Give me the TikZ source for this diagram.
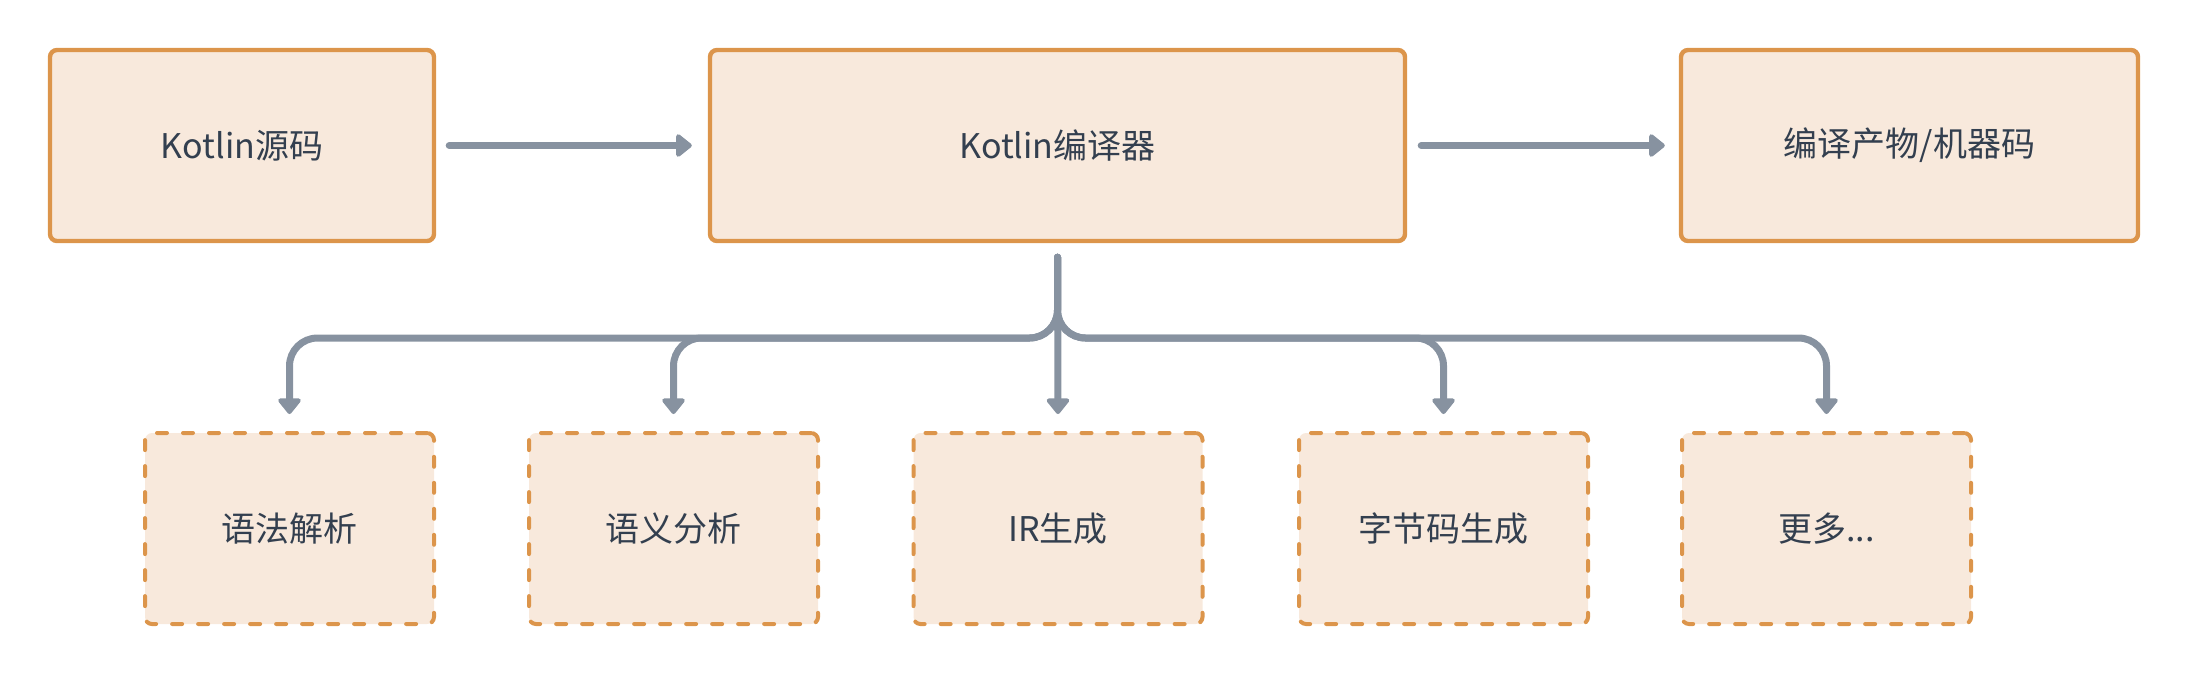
\documentclass[tikz,border=0pt]{standalone}
\usepackage{fontspec}
\setmainfont{Noto Sans CJK SC}
\usetikzlibrary{arrows.meta}
\definecolor{boxline}{HTML}{DC954B}
\definecolor{boxfill}{HTML}{F8E9DC}
\definecolor{arrgray}{HTML}{8792A0}
\definecolor{txt}{HTML}{333F4F}
\tikzset{
  mainbox/.style={draw=boxline, fill=boxfill, line width=2.2pt, rounded corners=3.5pt,
    minimum height=95.5pt, text=txt, font=\fontsize{17pt}{20pt}\selectfont, inner sep=0pt},
  subbox/.style={mainbox, line width=2pt, dash pattern=on 5pt off 8pt, line cap=round,
    minimum width=144.5pt},
  arr/.style={draw=arrgray, line width=3.5pt, line cap=round,
    -{Triangle[width=13pt,length=8.5pt,round]}},
}
\begin{document}
\begin{tikzpicture}[x=0.5pt,y=-0.5pt]
\useasboundingbox (0,0) rectangle (2188,676);
\node[mainbox, minimum width=192pt] (src) at (242,145.5) {Kotlin源码};
\node[mainbox, minimum width=347.5pt] (comp) at (1057.5,145.5) {Kotlin编译器};
\node[mainbox, minimum width=228.5pt] (out) at (1909.5,145.5) {编译产物/机器码};
\node[subbox] (b1) at (289.5,528.5) {语法解析};
\node[subbox] (b2) at (673.5,528.5) {语义分析};
\node[subbox] (b3) at (1058,528.5) {IR生成};
\node[subbox] (b4) at (1443.5,528.5) {字节码生成};
\node[subbox] (b5) at (1826.5,528.5) {更多...};
\draw[arr] ([xshift=6.5pt]src.east) -- ([xshift=-8pt]comp.west);
\draw[arr] ([xshift=7pt]comp.east) -- ([xshift=-7pt]out.west);
\coordinate (s) at ([yshift=-7pt]comp.south);
\coordinate (hy) at (1058,338);
\draw[arr] (s) -- ([yshift=8.5pt]b3.north);
\foreach \b in {b1,b2,b4,b5}{
  \draw[arr, rounded corners=14pt] (s) -- (s |- hy) -| ([yshift=8.5pt]\b.north);
}
\end{tikzpicture}
\end{document}
